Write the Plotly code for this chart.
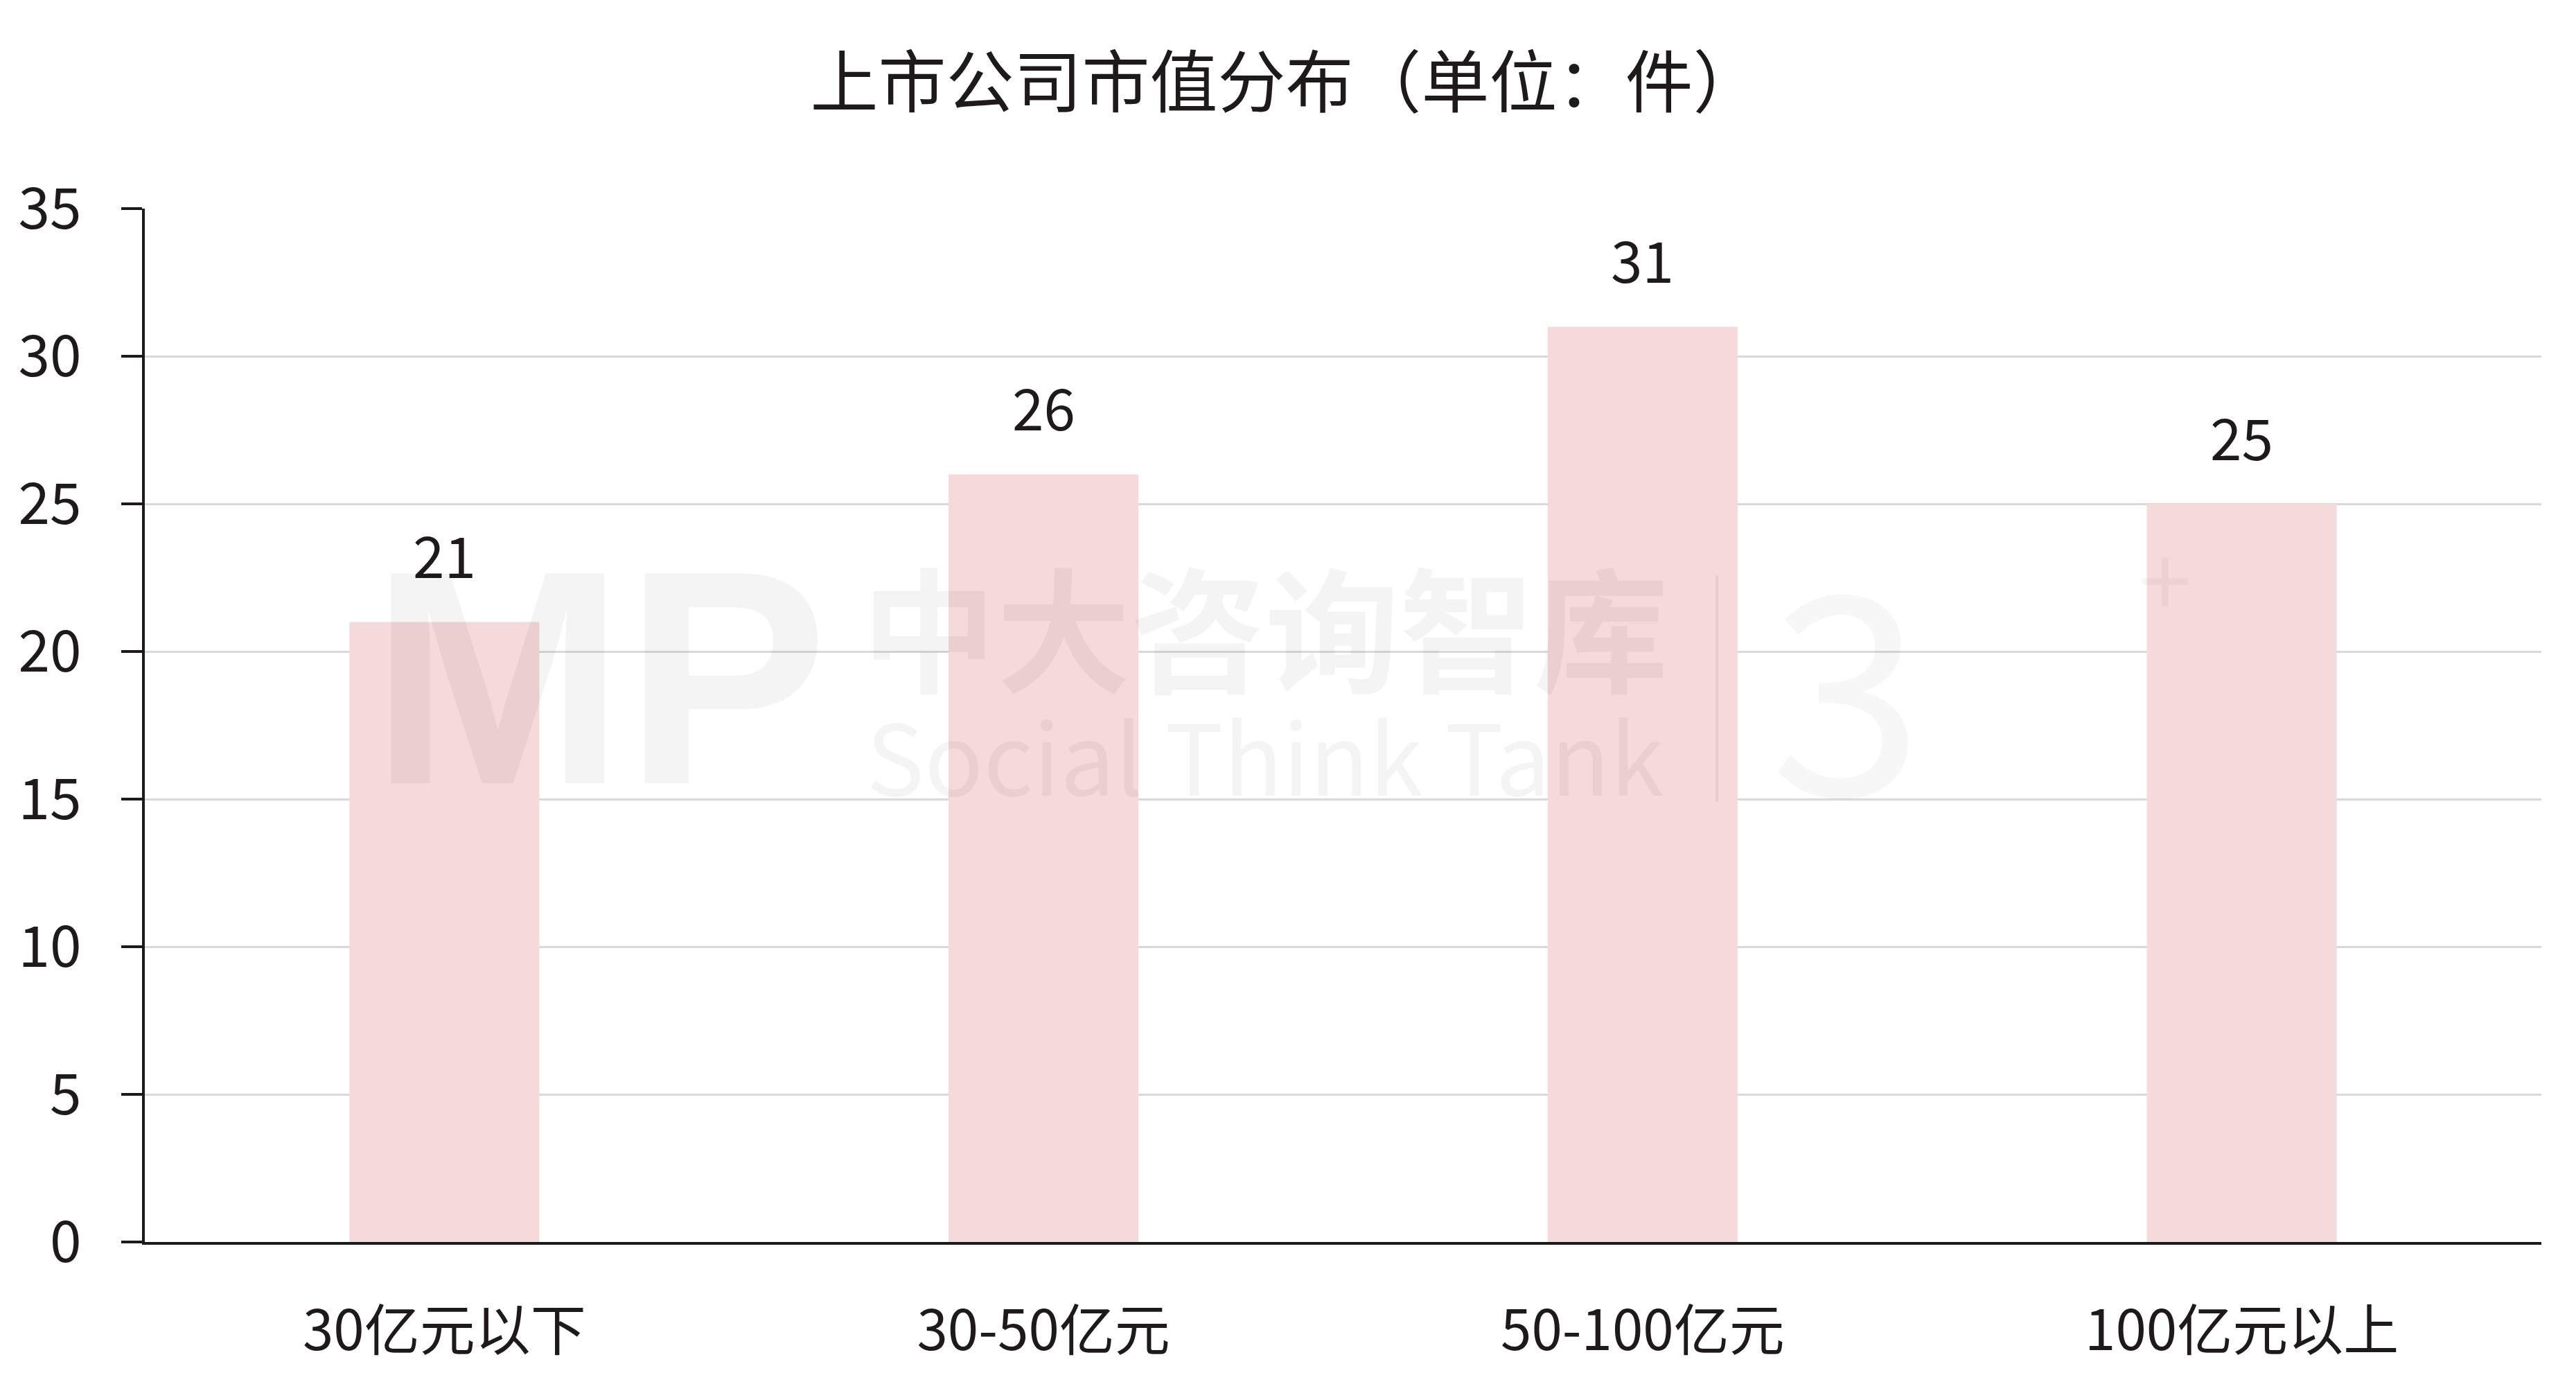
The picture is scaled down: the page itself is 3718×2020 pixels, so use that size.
import plotly.graph_objects as go

categories = ["30亿元以下", "30-50亿元", "50-100亿元", "100亿元以上"]
values = [21, 26, 31, 25]
y_ticks = [0, 5, 10, 15, 20, 25, 30, 35]

FONT = "Noto Sans CJK SC"
TXT = "#1f1a1a"
BAR = "#F6D9DA"

fig = go.Figure()
fig.add_trace(go.Bar(
    x=categories, y=values,
    marker=dict(color=BAR, line=dict(width=0)),
    hoverinfo="skip",
))

for c, v in zip(categories, values):
    fig.add_annotation(x=c, y=v, text=str(v), showarrow=False,
                       yanchor="bottom", yshift=37,
                       font=dict(family=FONT, size=82, color=TXT))

# faint watermark
wm = "rgba(0,0,0,0.045)"
fig.add_annotation(xref="paper", yref="paper", x=0.0936, y=0.546, text="<b>MP</b>",
                   showarrow=False, xanchor="left", yanchor="middle",
                   font=dict(family="Liberation Sans", size=440, color=wm))
fig.add_annotation(xref="paper", yref="paper", x=0.4675, y=0.598, text="<b>中大咨询智库</b>",
                   showarrow=False, xanchor="center", yanchor="middle",
                   font=dict(family=FONT, size=194, color=wm))
fig.add_annotation(xref="paper", yref="paper", x=0.4675, y=0.473, text="Social Think Tank",
                   showarrow=False, xanchor="center", yanchor="middle",
                   font=dict(family=FONT, size=141, color=wm))
fig.add_annotation(xref="paper", yref="paper", x=0.71, y=0.549, text="3",
                   showarrow=False, xanchor="center", yanchor="middle",
                   font=dict(family=FONT, size=400, color="rgba(0,0,0,0.03)"))
fig.add_annotation(xref="paper", yref="paper", x=0.843, y=0.645, text="+",
                   showarrow=False, xanchor="center", yanchor="middle",
                   font=dict(family=FONT, size=140, color="rgba(0,0,0,0.03)"))
fig.add_shape(type="line", xref="paper", yref="paper", x0=0.656, x1=0.656, y0=0.426, y1=0.645,
              line=dict(color="rgba(0,0,0,0.05)", width=4))

fig.update_layout(
    width=3710, height=2012,
    margin=dict(l=201, r=50, t=293, b=228, autoexpand=False),
    paper_bgcolor="white", plot_bgcolor="white",
    bargap=0.683,
    showlegend=False,
    title=dict(text="上市公司市值分布（单位：件）", x=0.498, xanchor="center",
               y=1 - 112 / 2012, yanchor="middle",
               font=dict(family=FONT, size=98, color=TXT)),
    font=dict(family=FONT, color=TXT),
)
fig.update_yaxes(
    range=[0, 35], tickvals=y_ticks, ticktext=[str(t) for t in y_ticks],
    showgrid=True, gridcolor="#d9d9d9", gridwidth=3,
    showline=True, linecolor="#1f1a1a", linewidth=4,
    ticks="outside", ticklen=30, tickwidth=4, tickcolor="#1f1a1a",
    tickfont=dict(family=FONT, size=82, color=TXT),
    ticklabelstandoff=41, zeroline=False, automargin=False,
)
fig.update_xaxes(
    showline=True, linecolor="#1f1a1a", linewidth=4,
    ticks="", tickfont=dict(family=FONT, size=80, color=TXT),
    ticklabelstandoff=56, automargin=False,
)

fig.write_html("out.html")
